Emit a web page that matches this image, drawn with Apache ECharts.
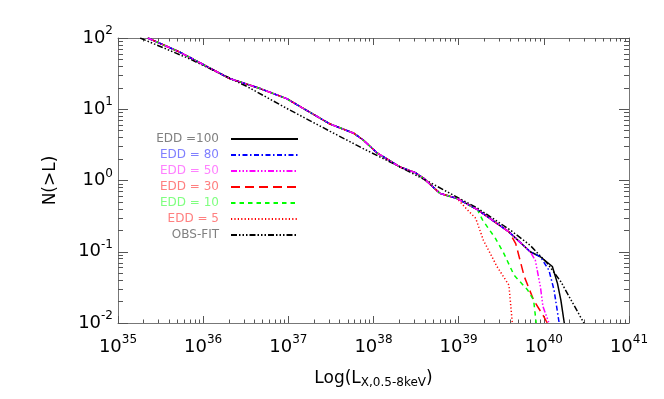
<!DOCTYPE html>
<html><head><meta charset="utf-8">
<script src="https://cdn.jsdelivr.net/npm/echarts@6/dist/echarts.min.js"></script>
<style>html,body{margin:0;padding:0;background:#fff}#c{width:664px;height:399px}</style>
</head><body><div id="c"></div>
<script>
// x: log10 L (erg/s), y: N(>L)
const mainLogL = [35.35, 35.73, 36.31, 36.67, 36.98, 37.49, 37.77, 37.88, 38.04, 38.31, 38.49, 38.59, 38.78, 38.98, 39.22, 39.59, 39.84, 39.96, 40.10];
const mainN    = [100, 63, 27, 19.5, 14.1, 6.2, 4.6, 3.7, 2.45, 1.55, 1.29, 1.07, 0.66, 0.56, 0.39, 0.19, 0.10, 0.085, 0.062];

// number of shared points + own tail for each EDD curve
const edd100Shared = 19, edd100LogL = [40.16, 40.20, 40.24], edd100N = [0.036, 0.021, 0.010];
const edd80Shared  = 18, edd80LogL  = [40.06, 40.12, 40.18], edd80N  = [0.055, 0.029, 0.010];
const edd50Shared  = 17, edd50LogL  = [39.90, 39.96, 39.99, 40.06], edd50N = [0.076, 0.032, 0.017, 0.010];
const edd30Shared  = 16, edd30LogL  = [39.67, 39.77, 39.88, 40.00, 40.04], edd30N = [0.13, 0.045, 0.021, 0.0123, 0.010];
const edd10Shared  = 15, edd10LogL  = [39.28, 39.43, 39.53, 39.65, 39.81, 39.88, 39.91], edd10N = [0.28, 0.155, 0.095, 0.047, 0.029, 0.021, 0.010];
const edd5Shared   = 14, edd5LogL   = [39.10, 39.20, 39.29, 39.45, 39.59, 39.63], edd5N = [0.39, 0.295, 0.145, 0.062, 0.034, 0.010];

const obsLogL = [35.26, 35.84, 36.51, 37.0, 37.49, 37.88, 38.28, 38.67, 39.02, 39.22, 39.61, 39.84, 40.04, 40.20, 40.47];
const obsN    = [100, 51, 21, 10, 4.9, 2.8, 1.62, 0.93, 0.55, 0.41, 0.20, 0.123, 0.069, 0.038, 0.010];

const seriesNames = ['EDD =100', 'EDD = 80', 'EDD = 50', 'EDD = 30', 'EDD = 10', 'EDD = 5', 'OBS-FIT'];
const xTickExps = [35, 36, 37, 38, 39, 40, 41];
const yTickExps = [-2, -1, 0, 1, 2];

function pts(logL, N) { return logL.map((l, i) => [l, Math.log10(N[i])]); }
function edd(shared, logL, N) {
  return pts(mainLogL.slice(0, shared), mainN.slice(0, shared)).concat(pts(logL, N));
}
function minor(exps) {
  const out = [];
  for (let i = 0; i < exps.length - 1; i++) for (let k = 2; k <= 9; k++) out.push(exps[i] + Math.log10(k));
  return out;
}

const FONT = 'DejaVu Sans';
const axisCol = '#777', tickCol = '#555';
const rich = {
  b: { fontSize: 18, fontFamily: FONT, color: '#000' },
  s: { fontSize: 12, fontFamily: FONT, color: '#000', padding: [0, 0, 14, 0] }
};
const fmt = v => '{b|10}{s|' + v + '}';

function xAx(pos, major) {
  return {
    type: 'value', min: xTickExps[0], max: xTickExps[xTickExps.length - 1], interval: 1, position: pos,
    axisLine: { show: major, onZero: false, lineStyle: { color: axisCol, width: 1 } },
    axisTick: major ? { inside: true, length: 7, lineStyle: { color: tickCol } }
                    : { inside: true, length: 3.5, customValues: minor(xTickExps), lineStyle: { color: tickCol } },
    axisLabel: { show: false }, splitLine: { show: false }
  };
}
function yAx(pos, major) {
  return {
    type: 'value', min: yTickExps[0], max: yTickExps[yTickExps.length - 1], interval: 1, position: pos,
    axisLine: { show: major, onZero: false, lineStyle: { color: axisCol, width: 1 } },
    axisTick: major ? { inside: true, length: 10, lineStyle: { color: tickCol } }
                    : { inside: true, length: 5, customValues: minor(yTickExps), lineStyle: { color: tickCol } },
    axisLabel: { show: false }, splitLine: { show: false }
  };
}

const xAxes = [xAx('bottom', true), xAx('bottom', false), xAx('top', true), xAx('top', false)];
xAxes[0].axisLabel = { show: true, formatter: fmt, rich: rich, margin: 11, showMinLabel: true, showMaxLabel: true };
xAxes[0].name = '{m|Log(L}{sub|X,0.5-8keV}{m|)}';
xAxes[0].nameLocation = 'middle';
xAxes[0].nameGap = 46;
xAxes[0].nameTextStyle = { rich: {
  m: { fontSize: 17, fontFamily: FONT, color: '#000' },
  sub: { fontSize: 12, fontFamily: FONT, color: '#000', padding: [8, 0, 0, 0] } } };

const yAxes = [yAx('left', true), yAx('left', false), yAx('right', true), yAx('right', false)];
yAxes[0].axisLabel = { show: true, formatter: fmt, rich: rich, margin: 5, showMinLabel: true, showMaxLabel: true };
yAxes[0].name = 'N(>L)';
yAxes[0].nameLocation = 'middle';
yAxes[0].nameGap = 59;
yAxes[0].nameTextStyle = { fontSize: 17, fontFamily: FONT, color: '#000' };

function ser(name, data, color, type, z) {
  return { name: name, type: 'line', data: data, symbol: 'none', showSymbol: false, z: z,
    xAxisIndex: 0, yAxisIndex: 0, clip: true, animation: false,
    lineStyle: { color: color, width: 1.5, type: type }, itemStyle: { color: color } };
}

const series = [
  ser(seriesNames[0], edd(edd100Shared, edd100LogL, edd100N), '#000000', 'solid', 2),
  ser(seriesNames[1], edd(edd80Shared, edd80LogL, edd80N), '#0000ff', [5, 2.5, 1.5, 2.5], 6),
  ser(seriesNames[2], edd(edd50Shared, edd50LogL, edd50N), '#ff00ff', [6, 2, 1.5, 2, 1.5, 2, 1.5, 2], 8),
  ser(seriesNames[3], edd(edd30Shared, edd30LogL, edd30N), '#ff0000', [9, 5], 4),
  ser(seriesNames[4], edd(edd10Shared, edd10LogL, edd10N), '#00ff00', [4.5, 4], 5),
  ser(seriesNames[5], edd(edd5Shared, edd5LogL, edd5N), '#ff0000', [1.2, 2.2], 3),
  ser(seriesNames[6], pts(obsLogL, obsN), '#000000', [6, 2, 1.5, 2, 1.5, 2, 1.5, 2], 7)
];

const legendTextColors = ['#808080', '#8080ff', '#ff80ff', '#ff8080', '#80ff80', '#ff8080', '#808080'];

const chart = echarts.init(document.getElementById('c'), null, { renderer: 'canvas' });
chart.setOption({
  animation: false,
  backgroundColor: '#fff',
  grid: { left: 118, right: 35, top: 38, bottom: 76, containLabel: false, outerBoundsMode: 'none' },
  xAxis: xAxes,
  yAxis: yAxes,
  legend: {
    orient: 'vertical', right: 365, top: 133, padding: 0, itemGap: 4,
    itemWidth: 67, itemHeight: 12, align: 'right', selectedMode: false,
    itemStyle: { opacity: 0, borderWidth: 0 },
    textStyle: { fontFamily: FONT, fontSize: 12, padding: [0, 7, 0, 0] },
    data: seriesNames.map((n, i) => ({ name: n, textStyle: { color: legendTextColors[i] } }))
  },
  series: series
});
</script>
</body></html>
